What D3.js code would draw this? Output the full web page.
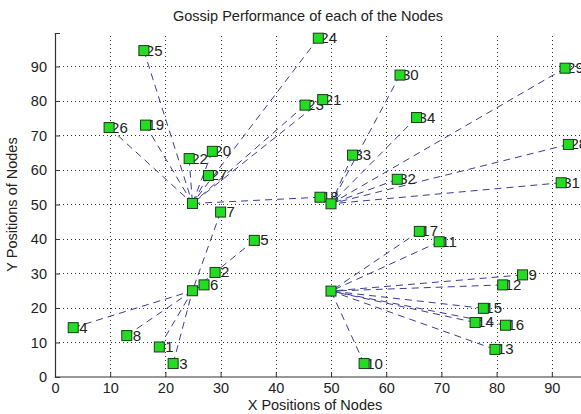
<!DOCTYPE html>
<html>
<head>
<meta charset="utf-8">
<script src="https://cdn.jsdelivr.net/npm/d3@7"></script>
<style>
  body { margin: 0; background: #fff; }
  text { font-family: "Liberation Sans", Arial, sans-serif; fill: #222; }
</style>
</head>
<body>
<div id="fig"></div>
<script>
// node ids, positions
var nodeIds = [1, 2, 3, 4, 5, 6, 7, 8,
               9, 10, 11, 12, 13, 14, 15, 16, 17,
               18,
               19, 20, 21, 22, 23, 24, 25, 26, 27,
               28, 29, 30, 31, 32, 33, 34];
var nodeX = [18.9, 29.0, 21.4, 3.3, 36.1, 27.0, 30.0, 13.0,
             84.7, 56.0, 69.6, 81.1, 79.7, 76.1, 77.6, 81.6, 66.0,
             48.0,
             16.4, 28.5, 48.5, 24.3, 45.3, 47.7, 16.1, 9.8, 27.8,
             93.0, 92.4, 62.5, 91.7, 62.0, 53.9, 65.5];
var nodeY = [8.7, 30.3, 3.9, 14.3, 39.6, 26.7, 47.8, 12.0,
             29.6, 3.9, 39.2, 26.7, 8.0, 15.8, 19.9, 15.0, 42.2,
             52.1,
             73.0, 65.4, 80.4, 63.3, 78.8, 98.2, 94.6, 72.3, 58.4,
             67.4, 89.5, 87.5, 56.3, 57.3, 64.3, 75.2];
// which hub each node reports to (0..3)
var nodeHub = [3, 3, 3, 3, 3, 3, 3, 3,
               2, 2, 2, 2, 2, 2, 2, 2, 2,
               0,
               0, 0, 0, 0, 0, 0, 0, 0, 0,
               1, 1, 1, 1, 1, 1, 1];

// cluster heads (unlabelled)
var hubX = [24.9, 50.0, 50.0, 24.9];
var hubY = [50.3, 50.2, 24.9, 25.0];

var xTicks = [0, 10, 20, 30, 40, 50, 60, 70, 80, 90];
var yTicks = [0, 10, 20, 30, 40, 50, 60, 70, 80, 90];

var W = 581, H = 414;
var m = {left: 55, right: 6, top: 33, bottom: 37};

var svg = d3.select("#fig").append("svg")
    .attr("width", W)
    .attr("height", H);

var x = d3.scaleLinear().domain([0, 94.2]).range([m.left, W - m.right]);
var y = d3.scaleLinear().domain([0, 99.7]).range([H - m.bottom, m.top]);

// grid
var grid = svg.append("g").attr("stroke", "#333").attr("stroke-width", 1)
    .attr("stroke-dasharray", "1,3");
grid.selectAll("line.gx").data(xTicks.slice(1)).enter().append("line")
    .attr("x1", function(d){ return Math.round(x(d)) + 0.5; })
    .attr("x2", function(d){ return Math.round(x(d)) + 0.5; })
    .attr("y1", y(0)).attr("y2", m.top);
grid.selectAll("line.gy").data(yTicks.slice(1)).enter().append("line")
    .attr("y1", function(d){ return Math.round(y(d)) + 0.5; })
    .attr("y2", function(d){ return Math.round(y(d)) + 0.5; })
    .attr("x1", x(0)).attr("x2", W);

// axes (ticks point inward)
var xAxis = svg.append("g")
    .attr("transform", "translate(0," + Math.round(y(0)) + ")")
    .call(d3.axisBottom(x).tickValues(xTicks).tickSize(-5).tickPadding(6));
var yAxis = svg.append("g")
    .attr("transform", "translate(" + Math.round(x(0)) + ",0)")
    .call(d3.axisLeft(y).tickValues(yTicks).tickSize(-5).tickPadding(8));
[xAxis, yAxis].forEach(function(a) {
  a.select(".domain").attr("stroke", "#333").attr("stroke-width", 1.2);
  a.selectAll(".tick line").attr("stroke", "#333");
  a.selectAll("text").style("font-size", "14.5px").attr("fill", "#222");
});
xAxis.select(".domain").attr("d", "M" + x(0) + ",0H" + W);

// edges node -> hub
var links = svg.append("g")
    .attr("fill", "none")
    .attr("stroke", "#3b3b98")
    .attr("stroke-width", 1)
    .attr("stroke-dasharray", "7,5");
links.selectAll("line").data(nodeIds).enter().append("line")
    .attr("x1", function(d, i){ return x(nodeX[i]); })
    .attr("y1", function(d, i){ return y(nodeY[i]); })
    .attr("x2", function(d, i){ return x(hubX[nodeHub[i]]); })
    .attr("y2", function(d, i){ return y(hubY[nodeHub[i]]); });

// labels (the square sits on top of the first digit)
svg.append("g").selectAll("text").data(nodeIds).enter().append("text")
    .attr("x", function(d, i){ return x(nodeX[i]) + (d < 10 ? 6 : 2); })
    .attr("y", function(d, i){ return y(nodeY[i]) + 5; })
    .style("font-size", "15px")
    .text(function(d){ return d; });

// squares
var sq = 10;
svg.append("g").selectAll("rect.n").data(nodeIds).enter().append("rect")
    .attr("x", function(d, i){ return x(nodeX[i]) - sq / 2; })
    .attr("y", function(d, i){ return y(nodeY[i]) - sq / 2; })
    .attr("width", sq).attr("height", sq)
    .attr("fill", "#22dd22").attr("stroke", "#1c3a1c").attr("stroke-width", 1);
svg.append("g").selectAll("rect.h").data(hubX).enter().append("rect")
    .attr("x", function(d, i){ return x(hubX[i]) - sq / 2; })
    .attr("y", function(d, i){ return y(hubY[i]) - sq / 2; })
    .attr("width", sq).attr("height", sq)
    .attr("fill", "#22dd22").attr("stroke", "#1c3a1c").attr("stroke-width", 1);

// titles
svg.append("text")
    .attr("x", 308).attr("y", 21)
    .attr("text-anchor", "middle")
    .style("font-size", "14.5px")
    .text("Gossip Performance of each of the Nodes");
svg.append("text")
    .attr("x", 315).attr("y", 410)
    .attr("text-anchor", "middle")
    .style("font-size", "14.5px")
    .text("X Positions of Nodes");
svg.append("text")
    .attr("transform", "translate(17," + y(50) + ") rotate(-90)")
    .attr("text-anchor", "middle")
    .style("font-size", "14.5px")
    .text("Y Positions of Nodes");
</script>
</body>
</html>
